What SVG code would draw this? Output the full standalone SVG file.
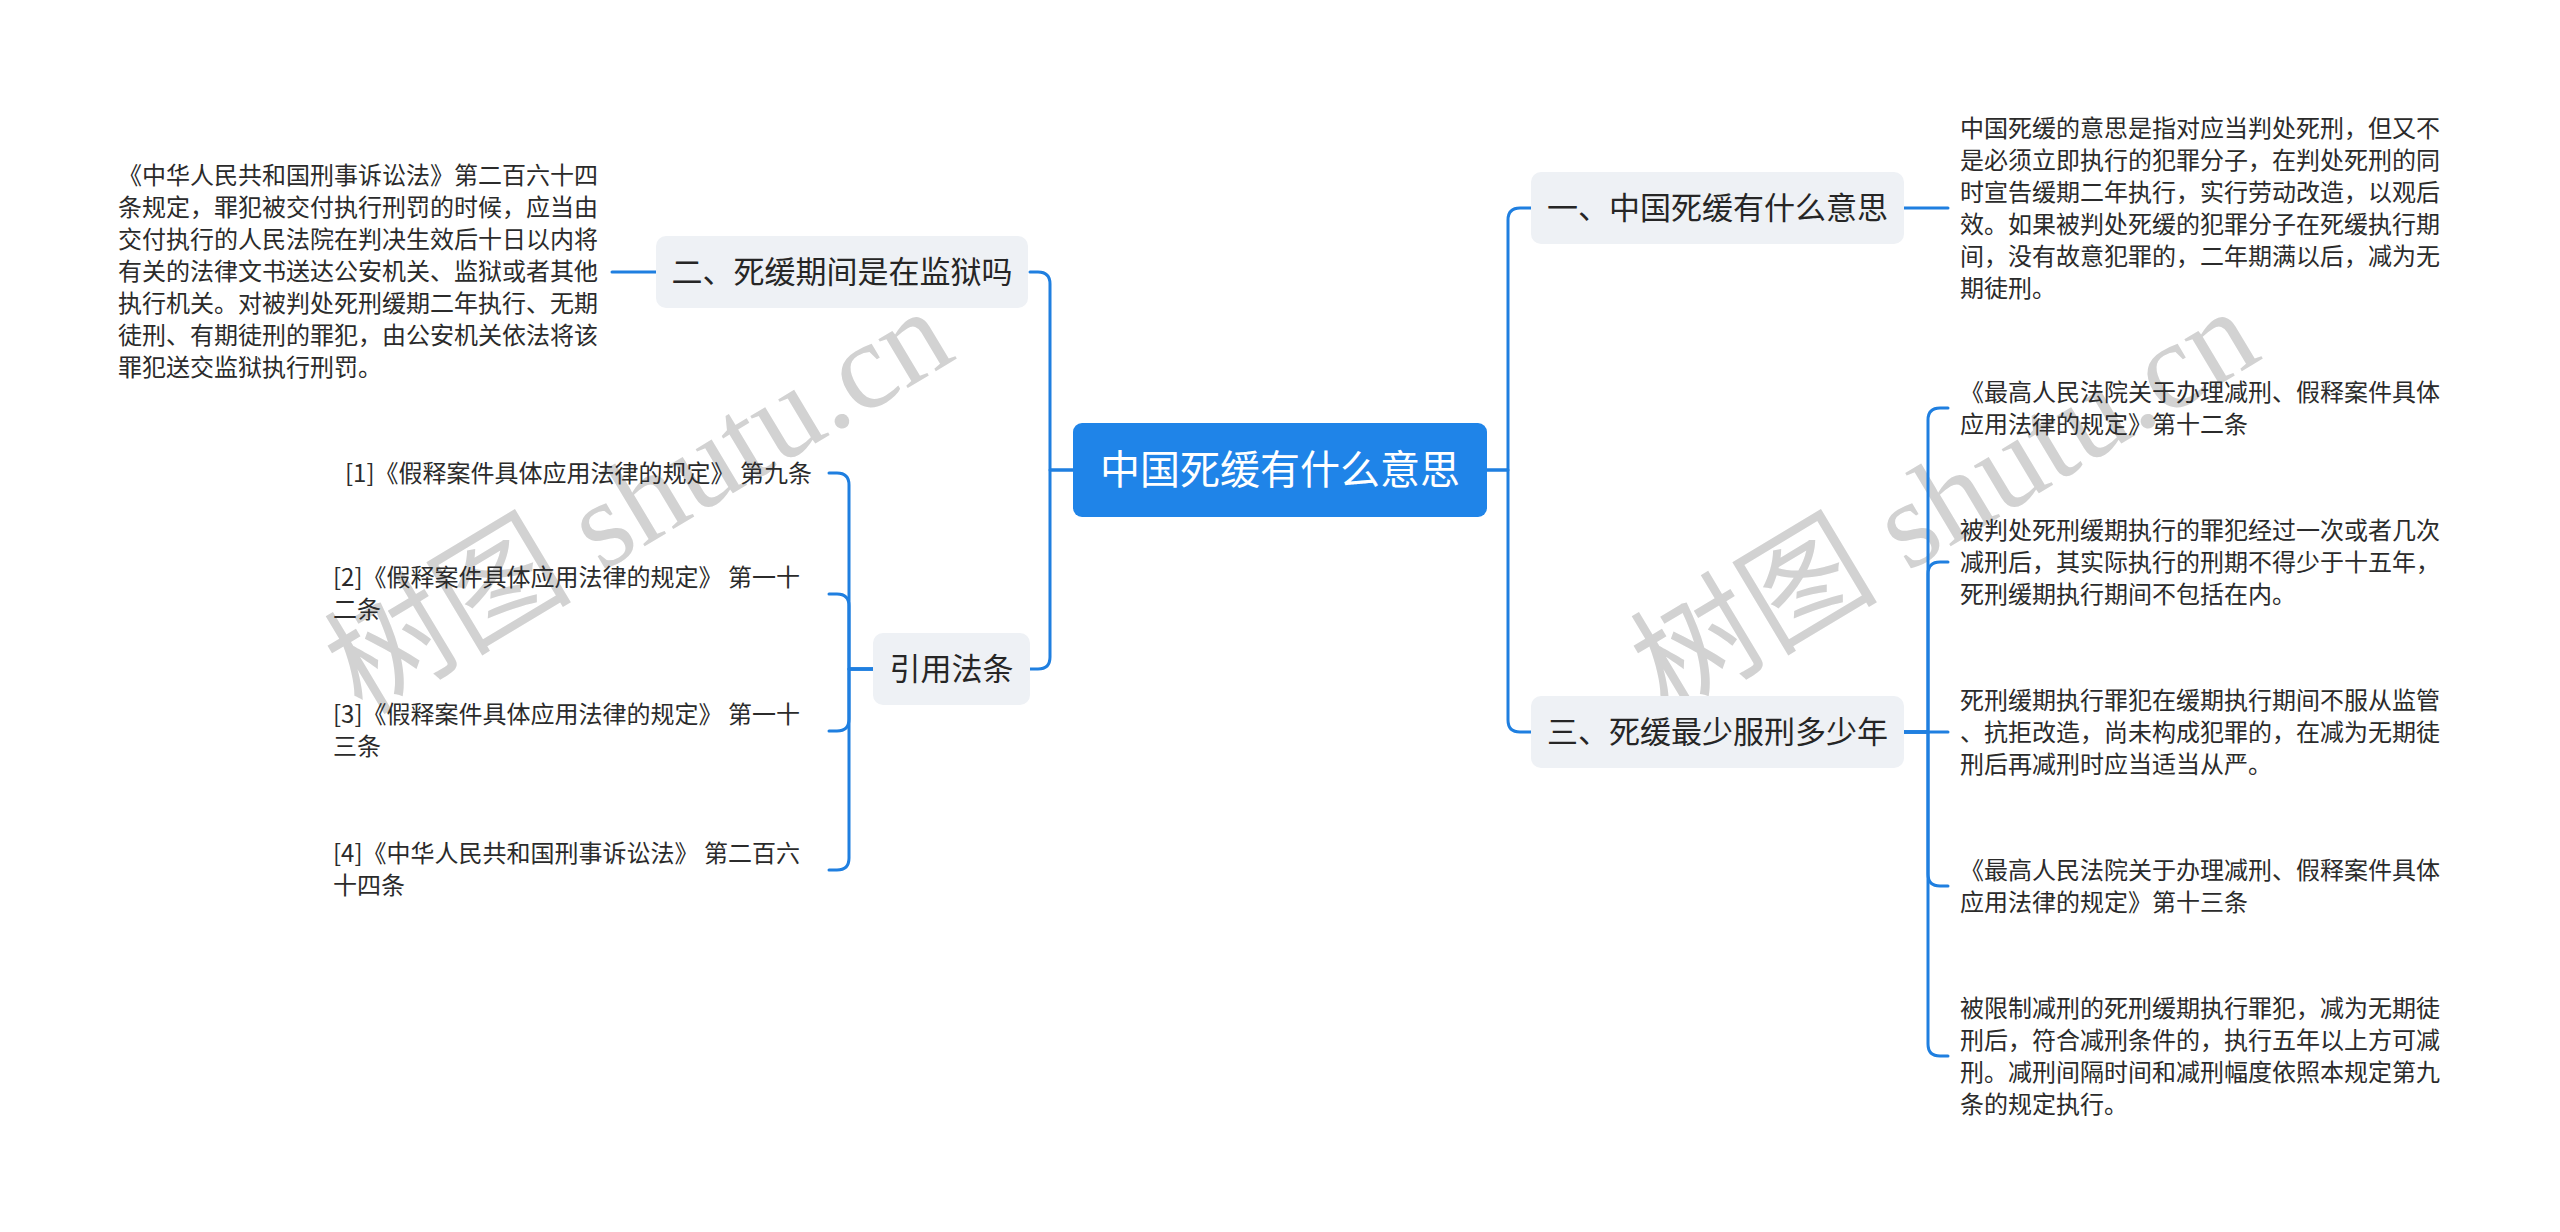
<svg xmlns="http://www.w3.org/2000/svg" width="2560" height="1232" viewBox="0 0 2560 1232">
<style>
.bg{fill:#ffffff}
.conn{fill:none;stroke:#1f7fe0;stroke-width:3;stroke-linecap:round;stroke-linejoin:round}
.root rect{fill:#1f84e8}
.root text{fill:#ffffff;font-family:"Noto Sans CJK SC","Noto Sans",sans-serif;font-size:40px;text-anchor:middle}
.branch rect{fill:#eef1f5}
.branch text{fill:#262626;font-family:"Noto Sans CJK SC","Noto Sans",sans-serif;font-size:31px;text-anchor:middle}
.leaf text{fill:#2b2b2b;font-family:"Noto Sans CJK SC","Noto Sans",sans-serif;font-size:24px}
.wm{fill:#d2d2d2;font-family:"Liberation Serif","Noto Sans CJK SC",serif;font-size:124px}
</style>
<rect class="bg" x="0" y="0" width="2560" height="1232"/>
<g id="watermark">
<text class="wm" x="362" y="716" transform="rotate(-31 362 716)">树图 shutu.cn</text>
<text class="wm" x="1668" y="716" transform="rotate(-31 1668 716)">树图 shutu.cn</text>
</g>
<g id="connectors">
<path class="conn" d="M1073,470 H1050 V284 Q1050,272 1038,272 H1030"/>
<path class="conn" d="M1073,470 H1050 V657 Q1050,669 1038,669 H1030"/>
<path class="conn" d="M1487,470 H1508 V220 Q1508,208 1520,208 H1531"/>
<path class="conn" d="M1487,470 H1508 V720 Q1508,732 1520,732 H1531"/>
<path class="conn" d="M1904,208 H1948"/>
<path class="conn" d="M1904,732 H1928 V420 Q1928,408 1940,408 H1948"/>
<path class="conn" d="M1904,732 H1928 V574 Q1928,562 1940,562 H1948"/>
<path class="conn" d="M1904,732 H1948"/>
<path class="conn" d="M1904,732 H1928 V874 Q1928,886 1940,886 H1948"/>
<path class="conn" d="M1904,732 H1928 V1044 Q1928,1056 1940,1056 H1948"/>
<path class="conn" d="M656,272 H612"/>
<path class="conn" d="M873,669 H849 V485 Q849,473 837,473 H829"/>
<path class="conn" d="M873,669 H849 V606 Q849,594 837,594 H829"/>
<path class="conn" d="M873,669 H849 V719 Q849,731 837,731 H829"/>
<path class="conn" d="M873,669 H849 V858 Q849,870 837,870 H829"/>
</g>
<g id="root" class="root">
<rect x="1073" y="423" width="414" height="94" rx="9"/>
<text x="1280" y="484">中国死缓有什么意思</text>
</g>
<g id="b1" class="branch">
<rect x="1531" y="172" width="373" height="72" rx="10"/>
<text x="1717.5" y="219">一、中国死缓有什么意思</text>
</g>
<g id="b3" class="branch">
<rect x="1531" y="696" width="373" height="72" rx="10"/>
<text x="1717.5" y="743">三、死缓最少服刑多少年</text>
</g>
<g id="b2" class="branch">
<rect x="656" y="236" width="372" height="72" rx="10"/>
<text x="842" y="283">二、死缓期间是在监狱吗</text>
</g>
<g id="b4" class="branch">
<rect x="873" y="633" width="157" height="72" rx="10"/>
<text x="951.5" y="680">引用法条</text>
</g>
<g id="l1" class="leaf">
<text x="1960" y="137">中国死缓的意思是指对应当判处死刑，但又不</text>
<text x="1960" y="169">是必须立即执行的犯罪分子，在判处死刑的同</text>
<text x="1960" y="201">时宣告缓期二年执行，实行劳动改造，以观后</text>
<text x="1960" y="233">效。如果被判处死缓的犯罪分子在死缓执行期</text>
<text x="1960" y="265">间，没有故意犯罪的，二年期满以后，减为无</text>
<text x="1960" y="297">期徒刑。</text>
</g>
<g id="l2" class="leaf">
<text x="118" y="184">《中华人民共和国刑事诉讼法》第二百六十四</text>
<text x="118" y="216">条规定，罪犯被交付执行刑罚的时候，应当由</text>
<text x="118" y="248">交付执行的人民法院在判决生效后十日以内将</text>
<text x="118" y="280">有关的法律文书送达公安机关、监狱或者其他</text>
<text x="118" y="312">执行机关。对被判处死刑缓期二年执行、无期</text>
<text x="118" y="344">徒刑、有期徒刑的罪犯，由公安机关依法将该</text>
<text x="118" y="376">罪犯送交监狱执行刑罚。</text>
</g>
<g id="r1" class="leaf">
<text x="345" y="482">[1]《假释案件具体应用法律的规定》 第九条</text>
</g>
<g id="r2" class="leaf">
<text x="333" y="586">[2]《假释案件具体应用法律的规定》 第一十</text>
<text x="333" y="618">二条</text>
</g>
<g id="r3" class="leaf">
<text x="333" y="723">[3]《假释案件具体应用法律的规定》 第一十</text>
<text x="333" y="755">三条</text>
</g>
<g id="r4" class="leaf">
<text x="333" y="862">[4]《中华人民共和国刑事诉讼法》 第二百六</text>
<text x="333" y="894">十四条</text>
</g>
<g id="c1" class="leaf">
<text x="1960" y="401">《最高人民法院关于办理减刑、假释案件具体</text>
<text x="1960" y="433">应用法律的规定》第十二条</text>
</g>
<g id="c2" class="leaf">
<text x="1960" y="539">被判处死刑缓期执行的罪犯经过一次或者几次</text>
<text x="1960" y="571">减刑后，其实际执行的刑期不得少于十五年，</text>
<text x="1960" y="603">死刑缓期执行期间不包括在内。</text>
</g>
<g id="c3" class="leaf">
<text x="1960" y="709">死刑缓期执行罪犯在缓期执行期间不服从监管</text>
<text x="1960" y="741">、抗拒改造，尚未构成犯罪的，在减为无期徒</text>
<text x="1960" y="773">刑后再减刑时应当适当从严。</text>
</g>
<g id="c4" class="leaf">
<text x="1960" y="879">《最高人民法院关于办理减刑、假释案件具体</text>
<text x="1960" y="911">应用法律的规定》第十三条</text>
</g>
<g id="c5" class="leaf">
<text x="1960" y="1017">被限制减刑的死刑缓期执行罪犯，减为无期徒</text>
<text x="1960" y="1049">刑后，符合减刑条件的，执行五年以上方可减</text>
<text x="1960" y="1081">刑。减刑间隔时间和减刑幅度依照本规定第九</text>
<text x="1960" y="1113">条的规定执行。</text>
</g>
</svg>
